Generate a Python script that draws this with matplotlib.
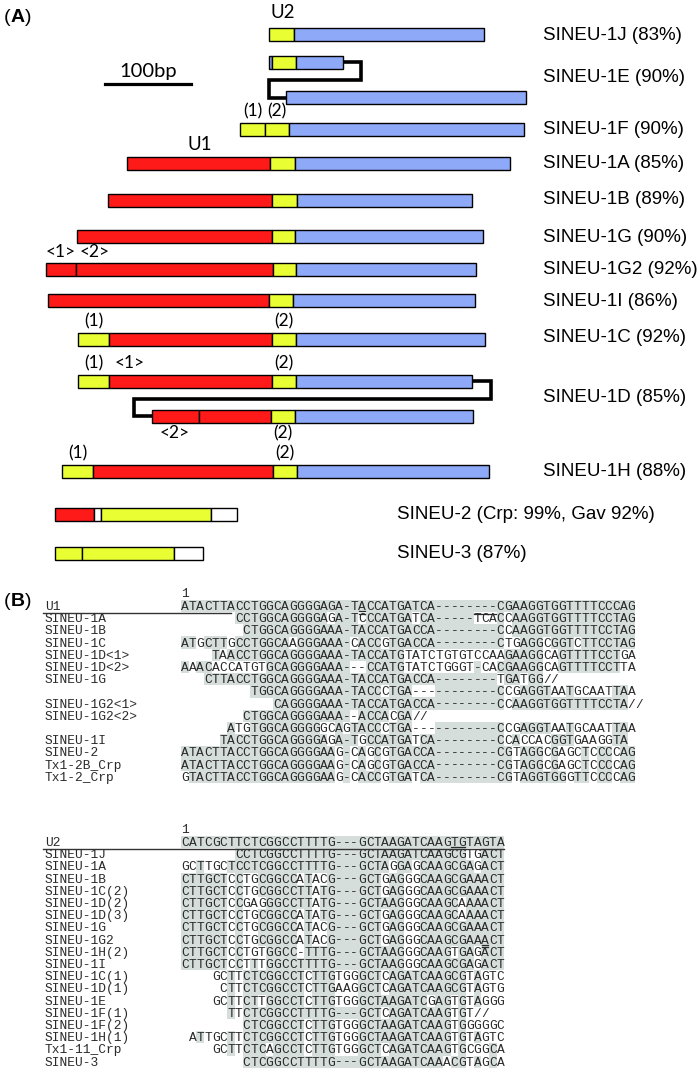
import matplotlib
matplotlib.use("Agg")
import matplotlib.pyplot as plt
from collections import Counter

# ---------------- Panel A data (bp, origin = start of U2 region) ----------------
bar_names = ["SINEU-1J", "SINEU-1E", "SINEU-1E", "SINEU-1F", "SINEU-1A", "SINEU-1B",
             "SINEU-1G", "SINEU-1G2", "SINEU-1I", "SINEU-1C", "SINEU-1D", "SINEU-1D",
             "SINEU-1H", "SINEU-2", "SINEU-3"]
bar_segments = [
    [(-2, 27, 'Y'), (27, 248, 'B')],
    [(-2, 1, 'B'), (1, 29, 'Y'), (29, 84, 'B')],
    [(17, 297, 'B')],
    [(-36, -7, 'Y'), (-7, 21, 'Y'), (21, 294, 'B')],
    [(-167, -1, 'R'), (-1, 28, 'Y'), (28, 278, 'B')],
    [(-190, 1, 'R'), (1, 30, 'Y'), (30, 234, 'B')],
    [(-226, 1, 'R'), (1, 28, 'Y'), (28, 247, 'B')],
    [(-262, -227, 'R'), (-227, 2, 'R'), (2, 29, 'Y'), (29, 238, 'B')],
    [(-259, -2, 'R'), (-2, 26, 'Y'), (26, 237, 'B')],
    [(-224, -188, 'Y'), (-188, 1, 'R'), (1, 29, 'Y'), (29, 249, 'B')],
    [(-224, -188, 'Y'), (-188, 1, 'R'), (1, 29, 'Y'), (29, 234, 'B')],
    [(-138, -84, 'R'), (-84, 0, 'R'), (0, 28, 'Y'), (28, 235, 'B')],
    [(-243, -207, 'Y'), (-207, 2, 'R'), (2, 30, 'Y'), (30, 253, 'B')],
    [(-251, -206, 'R'), (-206, -198, 'W'), (-198, -70, 'Y'), (-70, -40, 'W')],
    [(-251, -220, 'Y'), (-220, -113, 'Y'), (-113, -79, 'W')],
]
identity_labels = ["SINEU-1J (83%)", "SINEU-1E (90%)", "SINEU-1F (90%)", "SINEU-1A (85%)",
                   "SINEU-1B (89%)", "SINEU-1G (90%)", "SINEU-1G2 (92%)", "SINEU-1I (86%)",
                   "SINEU-1C (92%)", "SINEU-1D (85%)", "SINEU-1H (88%)",
                   "SINEU-2 (Crp: 99%, Gav 92%)", "SINEU-3 (87%)"]
scale_bar_bp = 100

# segment annotations: (bar index, label centre in bp, text, above/below)
seg_notes = [(3, -21.5, "(1)", "a"), (3, 7, "(2)", "a"),
             (7, -244, "<1>", "a"), (7, -205, "<2>", "a"),
             (9, -206, "(1)", "a"), (9, 15, "(2)", "a"),
             (10, -206, "(1)", "a"), (10, -164, "<1>", "a"), (10, 15, "(2)", "a"),
             (11, -112, "<2>", "b"), (11, 14, "(2)", "b"),
             (12, -225, "(1)", "a"), (12, 16, "(2)", "a")]

# ---------------- Panel B data ----------------
b1_labels = ["U1", "SINEU-1A", "SINEU-1B", "SINEU-1C", "SINEU-1D<1>", "SINEU-1D<2>",
             "SINEU-1G", "", "SINEU-1G2<1>", "SINEU-1G2<2>", "", "SINEU-1I", "SINEU-2",
             "Tx1-2B_Crp", "Tx1-2_Crp"]
b1_offsets = [0, 7, 8, 0, 4, 0, 3, 9, 12, 8, 6, 5, 0, 0, 0]
b1_seqs = [
    "ATACTTACCTGGCAGGGGAGA-TACCATGATCA--------CGAAGGTGGTTTTCCCAG",
    "CCTGGCAGGGGAGA-TCCCATGATCA-----TCACCAAGGTGGTTTTCCTAG",
    "CTGGCAGGGGAAA-TACCATGACCA--------CCAAGGTGGTTTTCCTAG",
    "ATGCTTGCCTGGCAAGGGAAA-CACCGTGACCA--------CTGAGGCGGTCTTCCTAG",
    "TAACCTGGCAGGGGAAA-TACCATGTATCTGTGTCCAAGAAGGCAGTTTTCCTGA",
    "AAACACCATGTGCAGGGGAAA---CCATGTATCTGGGT-CACGAAGGCAGTTTTCCTTA",
    "CTTACCTGGCAGGGGAAA-TACCATGACCA--------TGATGG//",
    "TGGCAGGGGAAA-TACCCTGA-----------CCGAGGTAATGCAATTAA",
    "CAGGGGAAA-TACCATGACCA--------CCAAGGTGGTTTTCCTA//",
    "CTGGCAGGGGAAA--ACCACGA//",
    "ATGTGGCAGGGGGCAGTACCCTGA-----------CCGAGGTAATGCAATTAA",
    "TACCTGGCAGGGGAGA-TGCCATGATCA--------CCACCACGGTGAAGGTA",
    "ATACTTACCTGGCAGGGGAAG-CAGCGTGACCA--------CGTAGGCGAGCTCCCCAG",
    "ATACTTACCTGGCAGGGGAAG-CAGCGTGACCA--------CGTAGGCGAGCTCCCCAG",
    "GTACTTACCTGGCAGGGGAAG-CACCGTGATCA--------CGTAGGTGGGTTCCCCAG",
]
# (row, first col, last col, 'u'nder / 'o'ver)
b1_marks = [(0, 23, 23, 'u'), (1, 23, 23, 'o'), (1, 38, 40, 'o')]

b2_labels = ["U2", "SINEU-1J", "SINEU-1A", "SINEU-1B", "SINEU-1C(2)", "SINEU-1D(2)",
             "SINEU-1D(3)", "SINEU-1G", "SINEU-1G2", "SINEU-1H(2)", "SINEU-1I",
             "SINEU-1C(1)", "SINEU-1D(1)", "SINEU-1E", "SINEU-1F(1)", "SINEU-1F(2)",
             "SINEU-1H(1)", "Tx1-11_Crp", "SINEU-3"]
b2_offsets = [0, 7, 0, 0, 0, 0, 0, 0, 0, 0, 0, 4, 5, 4, 6, 8, 1, 4, 8]
b2_seqs = [
    "CATCGCTTCTCGGCCTTTTG---GCTAAGATCAAGTGTAGTA",
    "CCTCGGCCTTTTG---GCTAAGATCAAGCGTGACT",
    "GCTTGCTCCTCGGCCTTTTG---GCTAGGAGCAAGCGAGACT",
    "CTTGCTCCTGCGGCCATACG---GCTGAGGGCAAGCGAAACT",
    "CTTGCTCCTGCGGCCTTATG---GCTGAGGGCAAGCGAAACT",
    "CTTGCTCCGAGGGCCTTATG---GCTAAGGGCAAGCAAAACT",
    "CTTGCTCCTGCGGCCATATG---GCTGAGGGCAAGCAAAACT",
    "CTTGCTCCTGCGGCCATACG---GCTGAGGGCAAGCGAAACT",
    "CTTGCTCCTGCGGCCATACG---GCTGAGGGCAAGCGAAACT",
    "CTTGCTCCTGTGGCC-TTTG---GCTAAGGGCAAGTGAGACT",
    "CTTGCTCCTTTGGCCTTTTG---GCTAAGGGCAAGCGAGACT",
    "GCTTCTCGGCCTCTTGTGGGCTCAGATCAAGCGTAGTC",
    "CTTCTCGGCCTCTTGAAGGCTCAGATCAAGCGTAGTG",
    "GCTTCTTGGCCTCTTGTGGGCTAAGATCGAGTGTAGGG",
    "TTCTCGGCCTTTTG---GCTCAGATCAAGTGT//",
    "CTCGGCCTCTTGTGGGCTAAGATCAAGTGGGGGC",
    "ATTGCTTCTCGGCCTCTTGTGGGCTAAGATCAAGTGTAGTC",
    "GCTTCTCAGCCTCTTGTGGGCTCAGATCAAGTGCGGCA",
    "CTCGGCCTTTTG---GCTAAGATCAAACGTAGCA",
]
b2_marks = [(0, 35, 36, 'u'), (8, 39, 39, 'u'), (9, 39, 39, 'o')]

# ---------------- styling / layout ----------------
W, H = 700, 1087
COL = {'R': '#ff1a1a', 'Y': '#e9ff33', 'B': '#8da9f8', 'W': '#ffffff'}
SHADE = '#d5dedb'
SANS = ['Liberation Sans', 'DejaVu Sans']
CAL = ['Lato', 'DejaVu Sans']
MONO = ['Liberation Mono', 'DejaVu Sans Mono']
INK = '#2a2a2a'

fig = plt.figure(figsize=(W / 100, H / 100), dpi=100)
base = fig.add_axes([0, 0, 1, 1])
base.set_xlim(0, W); base.set_ylim(H, 0); base.axis('off')

# Panel A axes: x in bp (0.86 px per bp, origin at px 271), y in px
PX_PER_BP, ORIGIN = 0.86, 271
axA = fig.add_axes([0, 0, 1, 1], facecolor='none')
axA.set_xlim(-ORIGIN / PX_PER_BP, (W - ORIGIN) / PX_PER_BP)
axA.set_ylim(H, 0); axA.axis('off')

bar_y = [34.5, 62, 97.5, 129, 163.5, 200, 236.5, 269.5, 300.5, 339, 381, 416, 471, 514.5, 553]
BAR_H = 13
for yy, segs in zip(bar_y, bar_segments):
    for s, e, k in segs:
        axA.barh(yy, e - s, left=s, height=BAR_H, color=COL[k], edgecolor='black',
                 linewidth=1.0, zorder=3)

# connectors for split copies (SINEU-1E and SINEU-1D)
def connector(top_i, bot_i, right_bp, left_bp, mid_y):
    top_end = bar_segments[top_i][-1][1]
    bot_start = bar_segments[bot_i][0][0]
    axA.plot([top_end, right_bp, right_bp, left_bp, left_bp, bot_start],
             [bar_y[top_i], bar_y[top_i], mid_y, mid_y, bar_y[bot_i], bar_y[bot_i]],
             color='black', lw=2.6, solid_joinstyle='miter', zorder=2)

connector(1, 2, 105, -2.5, 80)
connector(10, 11, 256, -159, 399)

for bi, xc, txt, pos in seg_notes:
    dy = -17.5 if pos == 'a' else 17.5
    axA.text(xc, bar_y[bi] + dy, txt, ha='center', va='center',
             fontsize=12.5, family=CAL)

label_y = [35, 78, 129, 163.5, 200, 237, 270, 301, 338, 398, 471]
for t, yy in zip(identity_labels[:11], label_y):
    base.text(543, yy, t, ha='left', va='center', fontsize=13.5, family=SANS)
base.text(397, bar_y[13], identity_labels[11], ha='left', va='center', fontsize=13.5, family=SANS)
base.text(397, bar_y[14], identity_labels[12], ha='left', va='center', fontsize=13.5, family=SANS)

# scale bar
sb_left = -193
axA.plot([sb_left, sb_left + scale_bar_bp], [84, 84], color='black', lw=2.3)
axA.text(sb_left + scale_bar_bp / 2, 71, f"{scale_bar_bp}bp", ha='center', va='center',
         fontsize=14.5, family=CAL)
axA.text(-1, 13, "U2", ha='left', va='center', fontsize=13.5, family=CAL)
axA.text(-83, 144, "U1", ha='center', va='center', fontsize=13.5, family=CAL)

def panel_label(x, y, letter):
    t0 = base.text(x, y, "(", ha='left', va='center', fontsize=14, family=SANS)
    t1 = base.annotate(letter, xy=(1, 0.5), xycoords=t0, va='center', ha='left',
                       fontsize=14, family=SANS, fontweight='bold')
    base.annotate(")", xy=(1, 0.5), xycoords=t1, va='center', ha='left', fontsize=14,
                  family=SANS)

panel_label(4, 18, "A")
panel_label(4, 602, "B")

# ---------------- Panel B drawing ----------------
X0, CW, DY = 181, 7.7, 12.2
LABEL_X = 45
MONO_PT = CW / 0.6 * 72 / 100

def draw_block(labels, offs, seqs, marks, y0, underline_cols):
    ax = fig.add_axes([0, 0, 1, 1], facecolor='none')
    ax.set_xlim((0 - X0) / CW, (W - X0) / CW)
    ax.set_ylim((H - y0) / DY, (0 - y0) / DY)
    ax.axis('off')
    cols = {}
    for s, o in zip(seqs, offs):
        for j, c in enumerate(s):
            if c not in ' /':
                cols.setdefault(o + j, Counter())[c] += 1
    cons = {k: v.most_common(1)[0][0] for k, v in cols.items()}
    lab_col = (LABEL_X - X0) / CW
    for i, (lab, o, s) in enumerate(zip(labels, offs, seqs)):
        run = None
        for j, c in enumerate(s + ' '):
            col = o + j
            ok = c not in ' /' and (i == 0 or cons.get(col) == c)
            if ok and run is None:
                run = col
            if not ok and run is not None:
                ax.add_patch(plt.Rectangle((run, i - 0.5), col - run, 1.0, color=SHADE,
                                           lw=0, zorder=1))
                run = None
        for j, c in enumerate(s):
            ax.text(o + j + 0.5, i + 0.08, c, ha='center', va='center', fontsize=MONO_PT,
                    family=MONO, color=INK, zorder=3)
        if lab:
            ax.text(lab_col, i + 0.08, lab, ha='left', va='center', fontsize=MONO_PT,
                    family=MONO, color=INK, zorder=3)
    for r, c0, c1, kind in marks:
        yy = r + (0.42 if kind == 'u' else -0.38)
        ax.plot([c0 + 0.1, c1 + 0.9], [yy, yy], color=INK, lw=0.9, zorder=4)
    ax.text(0.5, -1.0, "1", ha='center', va='center', fontsize=MONO_PT, family=MONO,
            color=INK)
    ax.plot([lab_col - 0.2, underline_cols], [0.55, 0.55], color='#333333', lw=1.0, zorder=4)
    return ax

axb1 = draw_block(b1_labels, b1_offsets, b1_seqs, b1_marks, 606, 6.5)
axb2 = draw_block(b2_labels, b2_offsets, b2_seqs, b2_marks, 842, len(b2_seqs[0]))

fig.savefig("out.png", dpi=100)
